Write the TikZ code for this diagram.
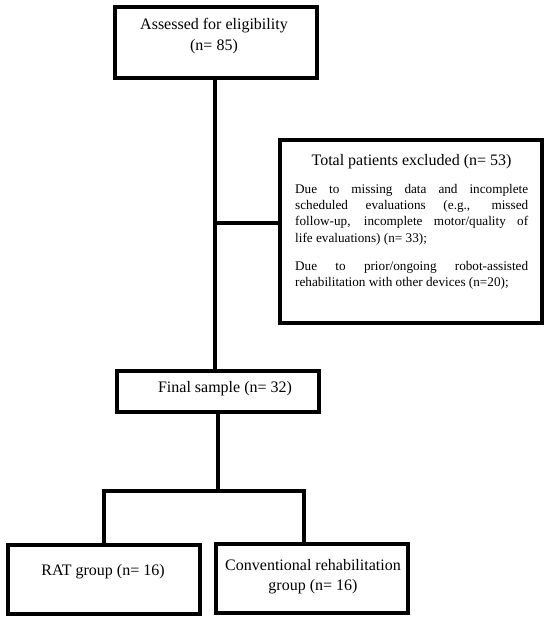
\documentclass[tikz,border=0pt]{standalone}
\usepackage{fontspec}
\setmainfont{Liberation Serif}
\begin{document}
\begin{tikzpicture}[x=1pt,y=-1pt,
  box/.style={draw=black, line width=3.2pt, rectangle, inner sep=0pt, fill=white},
  conn/.style={draw=black, line width=3.2pt},
  big/.style={font=\fontsize{16}{21}\selectfont, inner sep=0pt, anchor=base},
  para/.style={font=\fontsize{13.2}{16.4}\selectfont, inner sep=0pt, anchor=base west, text width=233pt, align=justify}]
\useasboundingbox (0,0) rectangle (550,621);
\fill[white] (0,0) rectangle (550,621);
% boxes
\node[box, minimum width=202pt, minimum height=71pt] (A) at (216,42.5) {};
\node[box, minimum width=262pt, minimum height=183pt] (E) at (411,231.5) {};
\node[box, minimum width=202pt, minimum height=41pt] (F) at (218,391.5) {};
\node[box, minimum width=192pt, minimum height=69pt] (R) at (104,579.5) {};
\node[box, minimum width=192pt, minimum height=69pt] (C) at (312,578.5) {};
% texts
\node[big] (A1) at (214,29) {Assessed for eligibility};
\node[big] (A2) at (214,50) {(n= 85)};
\node[big] (E0) at (411.5,165) {Total patients excluded (n= 53)};
\node[para] (E1) at (295,193) {Due to missing data and incomplete\linebreak scheduled evaluations (e.g., missed\linebreak follow-up, incomplete motor/quality of\linebreak life evaluations) (n= 33);};
\node[para] (E2) at (295,270) {Due to prior/ongoing robot-assisted\linebreak rehabilitation with other devices (n=20);};
\node[big] (F1) at (225,392) {Final sample (n= 32)};
\node[big] (R1) at (103,575) {RAT group (n= 16)};
\node[big] (C1) at (313,570) {Conventional rehabilitation};
\node[big] (C2) at (313,590) {group (n= 16)};
% connectors
\coordinate (j) at (215,223);
\coordinate (split) at (218,491);
\coordinate (cdrop) at (304,544);
\draw[conn] (A.south -| j) -- (F.north -| j);
\draw[conn] (j) -- (j -| E.west);
\draw[conn] (F.south) -- (split);
\draw[conn, line join=miter] (R.north) |- (split) -| (cdrop);
\end{tikzpicture}
\end{document}
